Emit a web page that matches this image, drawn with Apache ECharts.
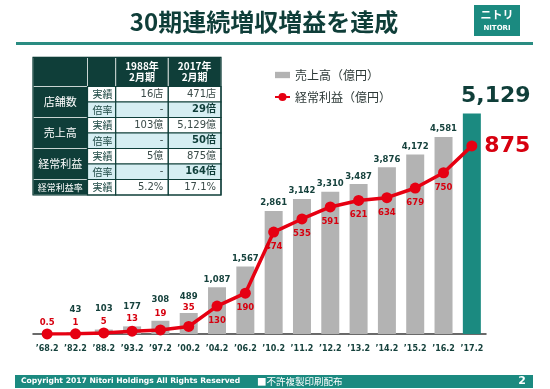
<!DOCTYPE html>
<html><head><meta charset="utf-8">
<script src="https://cdn.jsdelivr.net/npm/echarts@6/dist/echarts.min.js"></script>
<style>html,body{margin:0;padding:0;background:#fff}#c{width:550px;height:389px}</style>
</head><body><div id="c"></div>
<script>
// ---- data ----
const categories = ['’68.2','’82.2','’88.2','’93.2','’97.2','’00.2','’04.2','’06.2','’10.2','’11.2','’12.2','’13.2','’14.2','’15.2','’16.2','’17.2'];
const sales = [null,43,103,177,308,489,1087,1567,2861,3142,3310,3487,3876,4172,4581,5129];
const ordinaryProfit = [0.5,1,5,13,19,35,130,190,474,535,591,621,634,679,750,875];
const seriesNames = ['売上高（億円）','経常利益（億円）'];
const titleText = '30期連続増収増益を達成';
const tableHeaders = ['1988年\n2月期','2017年\n2月期'];
const tableGroups = ['店舗数','売上高','経常利益','経常利益率'];
const tableGroupSpans = [2,2,2,1];
const tableSubLabels = ['実績','倍率','実績','倍率','実績','倍率','実績'];
const values1988 = ['16店','-','103億','-','5億','-','5.2%'];
const values2017 = ['471店','29倍','5,129億','50倍','875億','164倍','17.1%'];
const footerText = 'Copyright 2017 Nitori Holdings All Rights Reserved';
const footerNote = '■不許複製印刷配布';
const pageNo = '2';

// ---- style ----
const DARK='#0f3e39', LIGHTBLUE='#d6eef2', TEAL='#1b8a80', GRAY='#b3b3b3', RED='#e60012', LABEL='#16423d';
const NUM = "'DejaVu Sans','Noto Sans CJK JP',sans-serif";
const CJK = "'Noto Sans CJK JP','DejaVu Sans',sans-serif";
const last = categories.length - 1;

const fmt = v => v == null ? '' : v.toLocaleString('en-US');

// bar label lift for the low years (to clear the profit labels)
const barLift = {1:18, 2:16.5, 3:15, 4:17, 5:12};
const barData = sales.map((v,i) => {
  const item = {value: v};
  if (i === last) {
    item.itemStyle = {color: TEAL};
    item.label = {fontSize: 22, color: DARK, distance: 6, offset:[24,0]};
  } else if (barLift[i] != null) {
    item.label = {distance: barLift[i]};
  }
  return item;
});
const lineTopDist = [1,1,1,3,6,9];
const lineData = ordinaryProfit.map((v,i) => {
  const item = {value: v};
  if (i === last) item.label = {position:'right', distance: 7, fontSize: 22};
  else if (i < lineTopDist.length) item.label = {position:'top', distance: lineTopDist[i]};
  else item.label = {position:'bottom', distance: 5};
  return item;
});

// ---- graphic: title, logo, table, footer ----
const g = [];
function txt(x,y,text,font,fill,align,extra){
  g.push({type:'text', x, y, z:10, style:Object.assign({text, font, fill, textAlign:align||'center', textVerticalAlign:'middle', align:align||'center', verticalAlign:'middle'}, extra||{})});
}
function rect(x,y,w,h,fill,stroke,lw){
  g.push({type:'rect', z:5, shape:{x,y,width:w,height:h}, style:{fill, stroke: stroke||null, lineWidth: lw||0}});
}
txt(264, 22, titleText, "bold 24px "+CJK, DARK);
rect(16, 42, 517, 3, '#2a8c82');
rect(474, 5, 46, 31, TEAL);
txt(497, 15, 'ニトリ', "bold 11px "+CJK, '#fff');
txt(497, 28, 'NITORI', "bold 7px "+NUM, '#fff');

// table
const colX=[33,87.5,115.7,168.3,221];
const headTop=57.3, headBot=86.5, rowH=15.5;
for (let c=0;c<4;c++) rect(colX[c], headTop, colX[c+1]-colX[c], headBot-headTop, DARK, '#c9d4d2', 1);
tableHeaders.forEach((h,i)=>{
  const cx=(colX[i+2]+colX[i+3])/2;
  txt(cx, (headTop+headBot)/2, h, "bold 10px "+CJK, '#fff', 'center', {lineHeight: 11});
});
let r0=0;
tableGroups.forEach((name,i)=>{
  const y=headBot+r0*rowH, h=tableGroupSpans[i]*rowH;
  rect(colX[0], y, colX[1]-colX[0], h, DARK, '#c9d4d2', 1);
  txt((colX[0]+colX[1])/2, y+h/2, name, (name.length>4?"9px ":"11px ")+CJK, '#fff');
  r0 += tableGroupSpans[i];
});
tableSubLabels.forEach((lab,r)=>{
  const y=headBot+r*rowH, isRate = lab==='倍率';
  const bg = isRate ? LIGHTBLUE : '#fff';
  for (let c=1;c<4;c++) rect(colX[c], y, colX[c+1]-colX[c], rowH, bg, DARK, 1.2);
  txt(colX[1]+5, y+rowH/2, lab, "10px "+CJK, '#1d4843', 'left');
  const bold = isRate && values2017[r] !== '-';
  txt(colX[3]-5, y+rowH/2, values1988[r], "10px "+NUM, '#3a4a48', 'right');
  txt(colX[4]-5, y+rowH/2, values2017[r], (bold?"bold ":"")+"10px "+NUM, bold?DARK:'#3a4a48', 'right');
});
rect(colX[0], headTop, colX[4]-colX[0], headBot+7*rowH-headTop, null, DARK, 1.2);

// footer
rect(15, 375, 518, 13, TEAL);
txt(21, 381.5, footerText, "bold 7.6px "+NUM, '#fff', 'left');
txt(257, 381.5, footerNote, "9.5px "+CJK, '#fff', 'left');
txt(522, 381.5, pageNo, "bold 11px "+NUM, '#fff', 'center');

const chart = echarts.init(document.getElementById('c'), null, {renderer:'canvas'});
chart.setOption({
  animation:false,
  backgroundColor:'#fff',
  graphic: g,
  legend: {
    orient:'vertical', left:274, top:69, padding:0, itemGap:10,
    itemWidth:15, itemHeight:10,
    textStyle:{fontFamily:CJK, fontSize:12, color:'#2e3a38'},
    data:[
      {name:seriesNames[0], icon:'path://M0,0h13v5.5h-13z'},
      {name:seriesNames[1]}
    ]
  },
  grid:{left:33, right:64, top:76, bottom:55, containLabel:false},
  xAxis:{
    type:'category', data:categories,
    axisLine:{lineStyle:{color:'#3a3a3a', width:1.5}},
    axisTick:{length:3, lineStyle:{color:'#3a3a3a'}},
    axisLabel:{margin:11, fontFamily:NUM, fontSize:8, fontWeight:'bold', color:LABEL, interval:0}
  },
  yAxis:[
    {type:'value', min:0, max:6000, show:false, splitLine:{show:false}},
    {type:'value', min:0, max:1200, show:false, splitLine:{show:false}}
  ],
  series:[
    {
      name:seriesNames[0], type:'bar', data:barData, barWidth:18,
      itemStyle:{color:GRAY},
      label:{show:true, position:'top', distance:3.5, fontFamily:NUM, fontSize:8.5, fontWeight:'bold', color:LABEL, formatter:p=>fmt(p.value)}
    },
    {
      name:seriesNames[1], type:'line', yAxisIndex:1, data:lineData, z:5,
      symbol:'circle', symbolSize:11,
      lineStyle:{color:RED, width:3.5}, itemStyle:{color:RED},
      label:{show:true, fontFamily:NUM, fontSize:8.5, fontWeight:'bold', color:'#d7000f', formatter:p=>String(p.value)}
    }
  ]
});
</script></body></html>
